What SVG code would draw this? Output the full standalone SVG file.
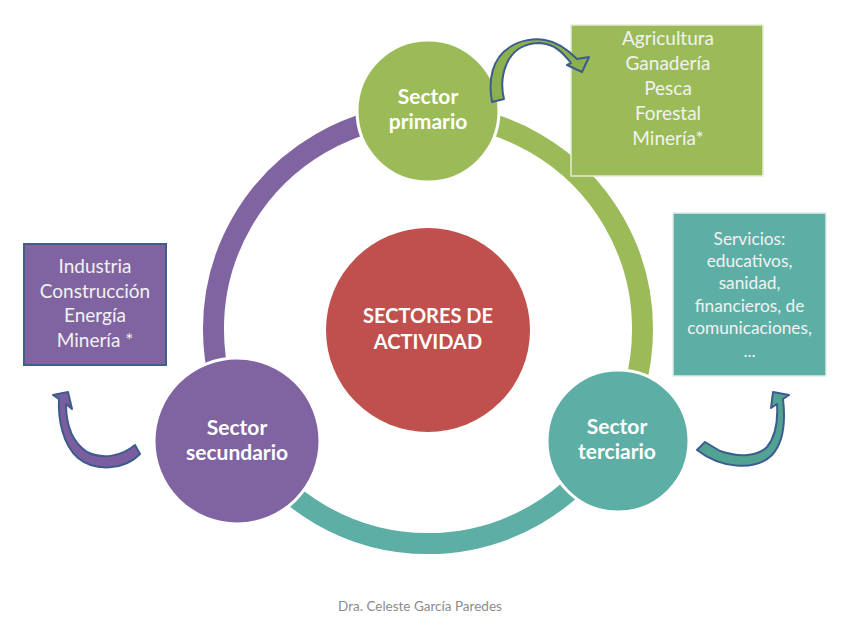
<svg xmlns="http://www.w3.org/2000/svg" width="848" height="636" viewBox="0 0 848 636">
<style>
.ring{fill:none;stroke-width:21}
.lbl{font-family:Lato,"Liberation Sans",sans-serif;font-weight:bold;font-size:21px;fill:#ffffff;text-anchor:middle}
.ctr{font-size:20px}
.box{font-family:Lato,"Liberation Sans",sans-serif;font-size:19px;fill:#F2F2F2;text-anchor:middle}
.sm{font-size:17.3px}
.arrow{stroke:#3D5C8E;stroke-width:2;stroke-linejoin:round}
</style>
<rect width="848" height="636" fill="#ffffff"/>
<g id="connectors">
<path class="ring" stroke="#8064A2" d="M242.2,436.25 A214.5,214.5 0 0 1 428,114.5"/>
<path class="ring" stroke="#9BBB59" d="M428,114.5 A214.5,214.5 0 0 1 613.8,436.25"/>
<path class="ring" stroke="#5DAFA5" d="M613.8,436.25 A214.5,214.5 0 0 1 242.2,436.25"/>
</g>
<g id="center">
<circle cx="428" cy="330" r="102" fill="#C0504D"/>
<text class="lbl ctr" x="428" y="323">SECTORES DE</text>
<text class="lbl ctr" x="428" y="349">ACTIVIDAD</text>
</g>
<g id="primario">
<circle cx="428" cy="111" r="71" fill="#9BBB59" stroke="#ffffff" stroke-width="3"/>
<text class="lbl" x="428" y="104">Sector</text>
<text class="lbl" x="428" y="129">primario</text>
</g>
<g id="secundario">
<circle cx="237" cy="441" r="83" fill="#8064A2" stroke="#ffffff" stroke-width="3"/>
<text class="lbl" x="237" y="435">Sector</text>
<text class="lbl" x="237" y="460">secundario</text>
</g>
<g id="terciario">
<circle cx="618" cy="441" r="71" fill="#5DAFA5" stroke="#ffffff" stroke-width="3"/>
<text class="lbl" x="617" y="434">Sector</text>
<text class="lbl" x="617" y="459">terciario</text>
</g>
<g id="box-primario">
<rect x="571" y="25" width="192" height="151" fill="#9BBB59" stroke="#E4EDD3" stroke-width="1.5"/>
<text class="box" x="668" y="45">Agricultura</text>
<text class="box" x="668" y="70">Ganadería</text>
<text class="box" x="668" y="95">Pesca</text>
<text class="box" x="668" y="120">Forestal</text>
<text class="box" x="668" y="145">Minería*</text>
</g>
<g id="box-secundario">
<rect x="24" y="244" width="142" height="121" fill="#8064A2" stroke="#3F5E8C" stroke-width="2"/>
<text class="box" x="95" y="273">Industria</text>
<text class="box" x="95" y="298">Construcción</text>
<text class="box" x="95" y="322">Energía</text>
<text class="box" x="95" y="347">Minería *</text>
</g>
<g id="box-terciario">
<rect x="673" y="213" width="153" height="163" fill="#5DAFA5" stroke="#DDEEEB" stroke-width="1.5"/>
<text class="box sm" x="749.5" y="245">Servicios:</text>
<text class="box sm" x="749.5" y="267">educativos,</text>
<text class="box sm" x="749.5" y="289">sanidad,</text>
<text class="box sm" x="749.5" y="312">financieros, de</text>
<text class="box sm" x="749.5" y="334">comunicaciones,</text>
<text class="box sm" x="749.5" y="357">...</text>
</g>
<g id="arrow-primario">
<path class="arrow" fill="#8DB04F" d="M492,102 C488,80 492,58 510,47 C520,40 535,38 545,40 C558,42 570,52 577,59 L589,57 L582,72 L567,65 L571,63 C563,53 555,44 540,43 C525,43 513,50 507,63 C502,74 501,87 504,99 Z"/>
</g>
<g id="arrow-secundario">
<path class="arrow" fill="#7A5E9E" d="M140,454 C125,470 95,472 78,458 C63,445 58,420 59,399 L53,395 L68,392 L72,409 L66,404 C66,425 72,442 87,452 C103,460 122,456 135,445 Z"/>
</g>
<g id="arrow-terciario">
<path class="arrow" fill="#52A294" d="M697,450 C720,468 755,472 772,455 C782,444 786,425 783,399 L789,395 L773,392 L771,408 L777,404 C778,420 776,436 767,447 C758,456 740,458 720,451 L705,442 Z"/>
</g>
<text x="420" y="611" font-family="Lato,'Liberation Sans',sans-serif" font-size="13.5" fill="#8C8C8C" text-anchor="middle">Dra. Celeste García Paredes</text>
</svg>
